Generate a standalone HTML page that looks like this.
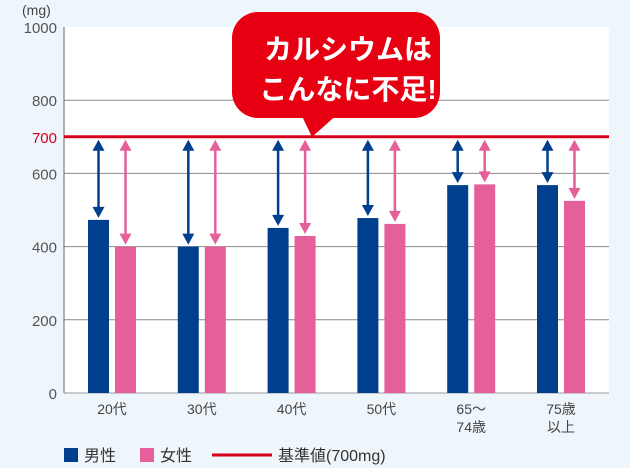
<!DOCTYPE html>
<html><head><meta charset="utf-8"><style>
body{margin:0;background:#eef6fc;}
svg{display:block;font-family:"Liberation Sans","Noto Sans CJK JP",sans-serif;}
</style></head><body>
<svg id="c" width="630" height="468">
<rect x="0" y="0" width="630" height="468" fill="#eef6fc"/>
<rect x="64" y="27" width="545" height="366" fill="#ffffff"/>
<g id="grid"></g><g id="bars"></g>
<g>
<rect x="232" y="12" width="208" height="106" rx="26" fill="#e60012"/>
<path d="M300 112 L340 112 L312 137 Z" fill="#e60012"/>
<text x="348" y="59" font-size="28" font-weight="bold" fill="#fff" text-anchor="middle">カルシウムは</text>
<text x="348" y="99" font-size="28" font-weight="bold" fill="#fff" text-anchor="middle">こんなに不足!</text>
</g>
<text x="22" y="15" font-size="14" fill="#444">(mg)</text>
<g>
<rect x="64" y="448" width="14" height="14" fill="#003f8e"/>
<text x="84" y="461" font-size="16" fill="#333">男性</text>
<rect x="140" y="448" width="14" height="14" fill="#e5609b"/>
<text x="160" y="461" font-size="16" fill="#333">女性</text>
<line x1="212" y1="455" x2="272" y2="455" stroke="#d7001a" stroke-width="3"/>
<text x="278" y="461" font-size="16" fill="#333">基準値(700mg)</text>
</g>
</svg>
<script>
const categories=[["20代"],["30代"],["40代"],["50代"],["65～","74歳"],["75歳","以上"]];
const male=[473,400,451,478,568,568];
const female=[400,400,429,462,570,525];
const ticks=[0,200,400,600,800,1000];
const standard=700;
const NS="http://www.w3.org/2000/svg";
const y=v=>393-v*0.366;
const cx=i=>112+i*89.8;
function mk(t,a,p){const e=document.createElementNS(NS,t);for(const k in a)e.setAttribute(k,a[k]);p.appendChild(e);return e;}
const g=document.getElementById('grid'),b=document.getElementById('bars');
ticks.forEach(t=>{
 if(t>0&&t<1000){const l=mk('line',{x1:64,x2:609,y1:y(t),y2:y(t),stroke:'#888','stroke-width':1},g);
 
 }
 const tx=mk('text',{x:57,y:y(t)+6,'font-size':15,fill:'#555','text-anchor':'end'},g);tx.textContent=t;
 
 
});
const tx7=mk('text',{x:57,y:y(standard)+6,'font-size':15,fill:'#d7001a','text-anchor':'end'},g);tx7.textContent=standard;


mk('line',{x1:64,x2:64,y1:27,y2:393,stroke:'#666'},g);
mk('line',{x1:64,x2:609,y1:393,y2:393,stroke:'#999'},g);
function arrow(x,v,col){
 const y1=y(standard)+3,y2=y(v)-2;
 mk('line',{x1:x,x2:x,y1:y1+8,y2:y2-8,stroke:col,'stroke-width':2.5},b);
 mk('path',{d:`M${x-6} ${y1+11} L${x+6} ${y1+11} L${x} ${y1} Z`,fill:col},b);
 mk('path',{d:`M${x-6} ${y2-11} L${x+6} ${y2-11} L${x} ${y2} Z`,fill:col},b);
}
categories.forEach((c,i)=>{
 const xm=cx(i)-24,xf=cx(i)+3;
 const r1=mk('rect',{x:xm,y:y(male[i]),width:21,height:393-y(male[i]),fill:'#003f8e'},b);
 
 
 const r2=mk('rect',{x:xf,y:y(female[i]),width:21,height:393-y(female[i]),fill:'#e5609b'},b);
 
 
 arrow(xm+10.5,male[i],'#003f8e');arrow(xf+10.5,female[i],'#e5609b');
 c.forEach((s,j)=>{const t=mk('text',{x:cx(i),y:414+j*18,'font-size':14,fill:'#444','text-anchor':'middle'},b);t.textContent=s;
 
 });
});
const sl=mk('line',{x1:64,x2:609,y1:y(standard),y2:y(standard),stroke:'#d7001a','stroke-width':3},b);


</script>
</body></html>
